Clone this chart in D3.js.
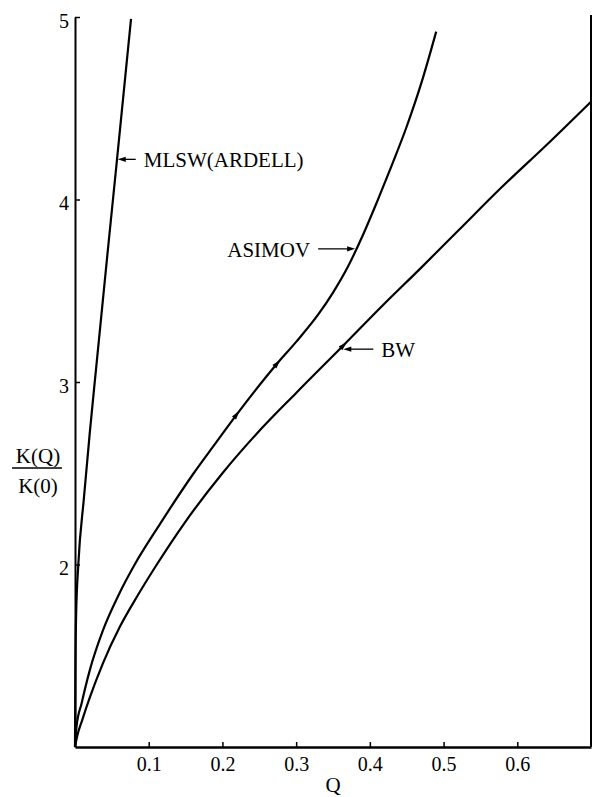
<!DOCTYPE html>
<html>
<head>
<meta charset="utf-8">
<script src="https://cdn.jsdelivr.net/npm/d3@7"></script>
<style>
  body { margin: 0; background: #fff; }
  svg text { font-family: "Liberation Serif", "Times New Roman", serif; fill: #000; }
</style>
</head>
<body>
<svg id="chart"></svg>
<script>
// tick values
const qTicks = [0.1, 0.2, 0.3, 0.4, 0.5, 0.6];
const kTicks = [2, 3, 4, 5];

// MLSW(ARDELL) curve
const mlswQ = [0, 0.0005, 0.0015, 0.0045, 0.012, 0.020, 0.029, 0.043, 0.057, 0.076];
const mlswK = [1.0, 1.40, 1.72, 2.00, 2.36, 2.72, 3.09, 3.66, 4.22, 4.99];

// ASIMOV curve
const asimovQ = [0, 0.002, 0.009, 0.020, 0.038, 0.060, 0.081, 0.115, 0.161, 0.188, 0.219, 0.274, 0.300, 0.330, 0.350, 0.370, 0.390, 0.410, 0.430, 0.450, 0.470, 0.490];
const asimovK = [1.0, 1.11, 1.24, 1.42, 1.64, 1.84, 2.00, 2.22, 2.50, 2.65, 2.82, 3.10, 3.22, 3.37, 3.49, 3.63, 3.80, 3.99, 4.19, 4.40, 4.64, 4.92];

// BW curve
const bwQ = [0, 0.003, 0.010, 0.020, 0.038, 0.061, 0.085, 0.111, 0.149, 0.200, 0.245, 0.300, 0.364, 0.420, 0.468, 0.520, 0.577, 0.640, 0.700];
const bwK = [1.0, 1.06, 1.15, 1.27, 1.46, 1.66, 1.83, 2.00, 2.23, 2.50, 2.71, 2.94, 3.20, 3.43, 3.62, 3.83, 4.06, 4.30, 4.536];

// small arrow marks drawn on the curves
const asimovMarkQ = [0.219, 0.274];
const bwMarkQ = [0.364];

// curve labels: text, and the point (Q, K) the arrow points at
const labelText = ["MLSW(ARDELL)", "ASIMOV", "BW"];
const labelQ = [0.058, 0.380, 0.364];
const labelK = [4.22, 3.73, 3.18];

const W = 596, H = 797;
const margin = { top: 17, right: 5, bottom: 50, left: 75 };
const width = W - margin.left - margin.right;
const height = H - margin.top - margin.bottom;

const svg = d3.select("#chart").attr("width", W).attr("height", H);
const g = svg.append("g").attr("transform", `translate(${margin.left},${margin.top})`);

const x = d3.scaleLinear().domain([0, 0.7]).range([0, width]);
const y = d3.scaleLinear().domain([1, 5]).range([height, 0]);

// axes, ticks point inward
const xAxis = d3.axisBottom(x).tickValues(qTicks).tickFormat(d3.format(".1f"))
  .tickSize(-5).tickSizeOuter(0).tickPadding(10);
const gx = g.append("g").attr("transform", `translate(0,${height})`).call(xAxis);
gx.select(".domain").attr("stroke-width", 2.6);
gx.selectAll(".tick line").attr("stroke-width", 1.5);
gx.selectAll("text").attr("font-size", 20);

const yAxis = d3.axisLeft(y).tickValues(kTicks).tickFormat(d3.format("d"))
  .tickSize(-5).tickSizeOuter(0).tickPadding(6);
const gy = g.append("g").call(yAxis);
gy.select(".domain").attr("stroke-width", 2);
gy.selectAll(".tick line").attr("stroke-width", 1.5);
gy.selectAll("text").attr("font-size", 20).attr("dy", "0.5em");

// right border
g.append("line")
  .attr("x1", x(0.7)).attr("x2", x(0.7))
  .attr("y1", y(5) - 2).attr("y2", y(1))
  .attr("stroke", "#000").attr("stroke-width", 2);

// axis titles
g.append("text")
  .attr("x", x(0.35)).attr("y", height + 45)
  .attr("text-anchor", "middle").attr("font-size", 21)
  .text("Q");

const fx = 38 - margin.left, fy = 468 - margin.top;
g.append("text").attr("x", fx).attr("y", fy - 5)
  .attr("text-anchor", "middle").attr("font-size", 21).text("K(Q)");
g.append("line").attr("x1", fx - 26).attr("x2", fx + 24)
  .attr("y1", fy).attr("y2", fy).attr("stroke", "#000").attr("stroke-width", 1.3);
g.append("text").attr("x", fx).attr("y", fy + 25)
  .attr("text-anchor", "middle").attr("font-size", 21).text("K(0)");

// curves
const line = d3.line().x(d => x(d[0])).y(d => y(d[1])).curve(d3.curveMonotoneX);

function drawCurve(qs, ks) {
  return g.append("path")
    .datum(d3.zip(qs, ks))
    .attr("fill", "none")
    .attr("stroke", "#000")
    .attr("stroke-width", 2.2)
    .attr("stroke-linejoin", "round")
    .attr("d", line);
}

const mlswPath = drawCurve(mlswQ, mlswK);
const asimovPath = drawCurve(asimovQ, asimovK);
const bwPath = drawCurve(bwQ, bwK);

// find the point on a path at a given Q, with its direction
function pointAt(path, q) {
  const node = path.node();
  const total = node.getTotalLength();
  const tx = x(q);
  let lo = 0, hi = total;
  for (let i = 0; i < 40; i++) {
    const mid = (lo + hi) / 2;
    if (node.getPointAtLength(mid).x < tx) lo = mid; else hi = mid;
  }
  const p = node.getPointAtLength(lo);
  const p2 = node.getPointAtLength(Math.min(total, lo + 2));
  const p1 = node.getPointAtLength(Math.max(0, lo - 2));
  const ang = Math.atan2(p2.y - p1.y, p2.x - p1.x) * 180 / Math.PI;
  return { x: p.x, y: p.y, ang };
}

function drawMarks(path, qs) {
  qs.forEach(q => {
    const p = pointAt(path, q);
    g.append("path")
      .attr("d", "M5,0 L-4,-2.6 L-4,2.6 Z")
      .attr("transform", `translate(${p.x},${p.y}) rotate(${p.ang})`)
      .attr("fill", "#000");
  });
}
drawMarks(asimovPath, asimovMarkQ);
drawMarks(bwPath, bwMarkQ);

// labels with arrows
const arrowLen = [18, 37, 30];
const side = [1, -1, 1]; // text to the right (1) or left (-1) of the arrow tail
d3.zip(labelText, labelQ, labelK).forEach(([t, q, k], i) => {
  const tx = x(q), ty = y(k);
  const dir = side[i];
  const tail = tx + dir * arrowLen[i];
  g.append("line")
    .attr("x1", tx + dir * 5).attr("x2", tail)
    .attr("y1", ty).attr("y2", ty)
    .attr("stroke", "#000").attr("stroke-width", 1.3);
  g.append("path")
    .attr("d", `M${tx},${ty} L${tx + dir * 8},${ty - 2.6} L${tx + dir * 8},${ty + 2.6} Z`)
    .attr("fill", "#000");
  g.append("text")
    .attr("x", tail + dir * 8)
    .attr("y", ty + 8)
    .attr("text-anchor", dir === 1 ? "start" : "end")
    .attr("font-size", 21)
    .text(t);
});
</script>
</body>
</html>
